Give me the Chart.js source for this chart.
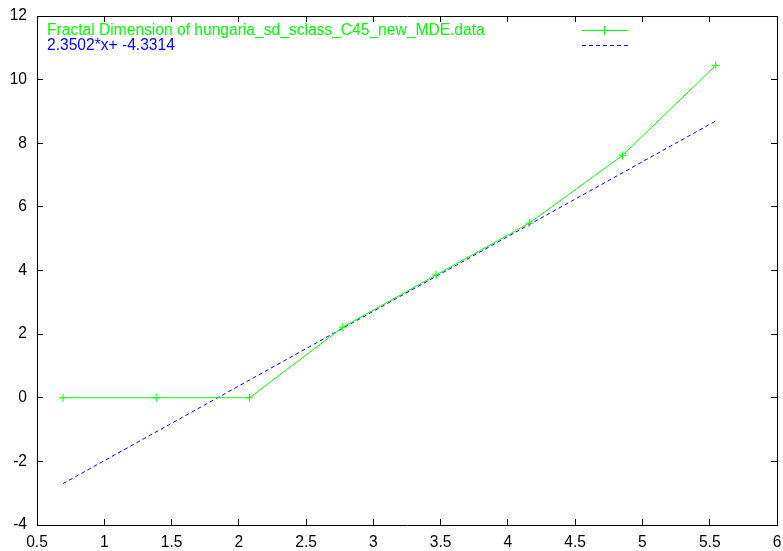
<!DOCTYPE html>
<html>
<head>
<meta charset="utf-8">
<script src="https://cdn.jsdelivr.net/npm/chart.js@4"></script>
<style>
  body { margin: 0; background: #fff; }
  #wrap { width: 783px; height: 551px; }
</style>
</head>
<body>
<div id="wrap"><canvas id="myChart" width="783" height="551"></canvas></div>
<script>
// log2 box sizes (ln) against measured dimension values
const dataX = [0.693, 1.386, 2.079, 2.773, 3.466, 4.159, 4.852, 5.545];
const dataY = [0, 0, 0, 2.22, 3.86, 5.49, 7.62, 10.45];
// least squares fit, end points
const fitX = [0.693, 5.545];
const fitY = [-2.70, 8.70];
const xTicks = [0.5, 1, 1.5, 2, 2.5, 3, 3.5, 4, 4.5, 5, 5.5, 6];
const yTicks = [-4, -2, 0, 2, 4, 6, 8, 10, 12];
const dataLabel = "Fractal Dimension of hungaria_sd_sclass_C45_new_MDE.data";
const fitLabel = "2.3502*x+ -4.3314";

const GREEN = "#00ff00";
const BLUE = "#0000ff";
const FONT = "'Liberation Sans', Arial, sans-serif";
const FSIZE = 15.6;

function pts(xs, ys) {
    return xs.map((x, i) => ({x: x, y: ys[i]}));
}

// border line plus short inward ticks, no grid inside the plot
const frameGrid = { display: true, drawOnChartArea: false, drawTicks: true, tickLength: -6, color: "#000", lineWidth: 1 };
const frameBorder = { display: true, color: "#000", width: 1 };

function xAxis(extra) {
    return Object.assign({
        type: "linear", min: 0.5, max: 6,
        afterBuildTicks: s => { s.ticks = xTicks.map(v => ({value: v})); },
        grid: frameGrid,
        border: frameBorder
    }, extra);
}

function yAxis(extra) {
    return Object.assign({
        type: "linear", min: -4, max: 12,
        afterBuildTicks: s => { s.ticks = yTicks.map(v => ({value: v})); },
        grid: frameGrid,
        border: frameBorder
    }, extra);
}

// key text at the top left, line samples on the right
const gnuKey = {
    id: "gnuKey",
    afterDraw(chart) {
        const ctx = chart.ctx;
        const a = chart.chartArea;
        const y1 = a.top + 14.5, y2 = a.top + 29.5;
        ctx.save();
        ctx.font = FSIZE + "px " + FONT;
        ctx.textBaseline = "middle";
        ctx.fillStyle = GREEN;
        ctx.fillText(dataLabel, a.left + 10, y1);
        ctx.fillRect(582, Math.round(y1) - 1, 45, 1);
        ctx.fillRect(604, Math.round(y1) - 5, 1, 9);
        ctx.fillStyle = BLUE;
        ctx.fillText(fitLabel, a.left + 10, y2);
        for (let x = 582; x < 627; x += 7) {
            ctx.fillRect(x, Math.round(y2) - 1, 4, 1);
        }
        ctx.restore();
    }
};

new Chart("myChart", {
    type: "scatter",
    data: {
        datasets: [{
            label: dataLabel,
            data: pts(dataX, dataY),
            showLine: true,
            borderColor: GREEN,
            backgroundColor: GREEN,
            borderWidth: 1,
            pointStyle: "cross",
            pointRadius: 4,
            pointBorderWidth: 1
        }, {
            label: fitLabel,
            data: pts(fitX, fitY),
            showLine: true,
            borderColor: BLUE,
            borderWidth: 1,
            borderDash: [4, 3],
            pointRadius: 0
        }]
    },
    plugins: [gnuKey],
    options: {
        responsive: false,
        animation: false,
        layout: { autoPadding: false, padding: { top: 16, right: 6, left: 0, bottom: 0 } },
        plugins: { legend: { display: false }, tooltip: { enabled: false } },
        scales: {
            x: xAxis({
                position: "bottom",
                afterFit: s => { s.height = 26; s.paddingLeft = 0; s.paddingRight = 0; },
                ticks: {
                    color: "#000", padding: 14, maxRotation: 0,
                    callback: v => String(v),
                    font: { family: FONT, size: FSIZE }
                }
            }),
            x2: xAxis({
                position: "top",
                afterFit: s => { s.height = 0; s.paddingLeft = 0; s.paddingRight = 0; },
                ticks: { display: false }
            }),
            y: yAxis({
                position: "left",
                afterFit: s => { s.width = 37; s.paddingTop = 0; s.paddingBottom = 0; },
                ticks: {
                    color: "#000", padding: 16,
                    callback: v => String(v),
                    font: { family: FONT, size: FSIZE }
                }
            }),
            y2: yAxis({
                position: "right",
                afterFit: s => { s.width = 0; s.paddingTop = 0; s.paddingBottom = 0; },
                ticks: { display: false }
            })
        }
    }
});
</script>
</body>
</html>
